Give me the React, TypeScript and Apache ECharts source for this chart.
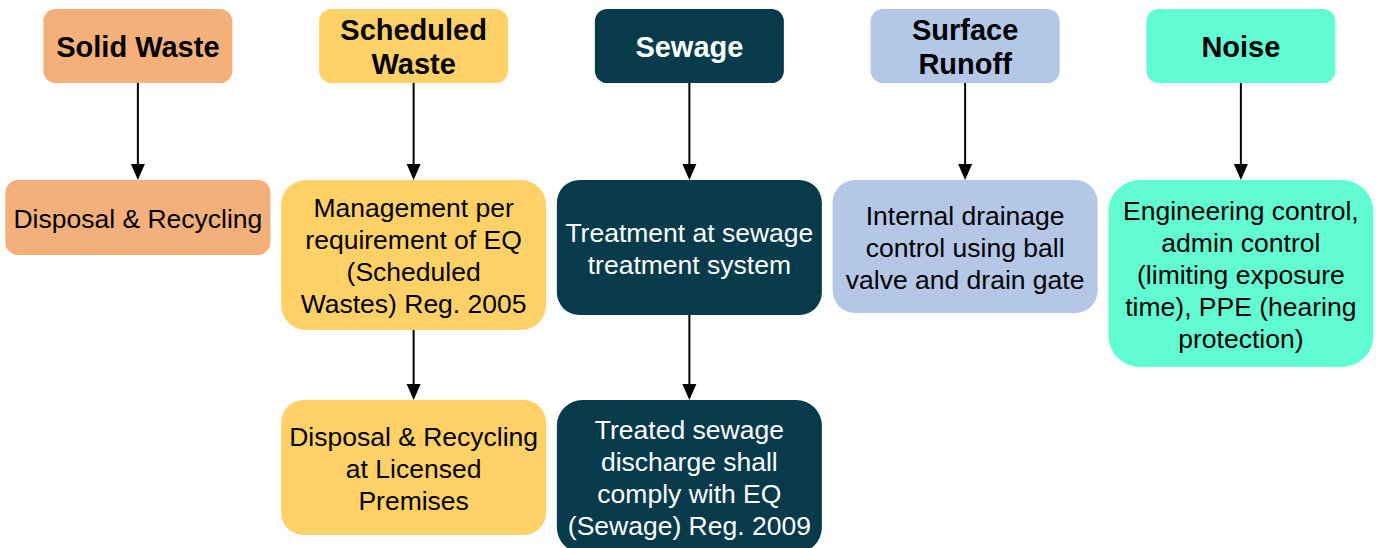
import React, { useEffect, useRef } from "react";
import * as echarts from "echarts";

// ---- Data ----
const headers = ["Solid Waste", "Scheduled\nWaste", "Sewage", "Surface\nRunoff", "Noise"];
const stepOne = [
  "Disposal & Recycling",
  "Management per\nrequirement of EQ\n(Scheduled\nWastes) Reg. 2005",
  "Treatment at sewage\ntreatment system",
  "Internal drainage\ncontrol using ball\nvalve and drain gate",
  "Engineering control,\nadmin control\n(limiting exposure\ntime), PPE (hearing\nprotection)",
];
const stepTwo: (string | null)[] = [
  null,
  "Disposal & Recycling\nat Licensed\nPremises",
  "Treated sewage\ndischarge shall\ncomply with EQ\n(Sewage) Reg. 2009",
  null,
  null,
];
const fills = ["#F4B07B", "#FFD166", "#073B4C", "#B4C7E7", "#62FCD3"];
const textColors = ["#000000", "#000000", "#FFFFFF", "#000000", "#000000"];

// ---- Layout (pixel units on the hidden y axis) ----
const TIER_TOP = [9, 180, 400];
const HEADER_SIZE = { w: 189, h: 74 };
const BODY_W = 265;
const STEP_ONE_H = [75, 150, 135, 133, 187];
const STEP_TWO_H = [0, 135, 153, 0, 0];
const FONT = "'Liberation Sans', Arial, Helvetica, sans-serif";

type NodeRow = [number, number, number, number, number]; // col, top, height, width, tier
const nodes: { value: NodeRow; text: string }[] = [];
headers.forEach((t, c) => nodes.push({ value: [c, TIER_TOP[0], HEADER_SIZE.h, HEADER_SIZE.w, 0], text: t }));
stepOne.forEach((t, c) => nodes.push({ value: [c, TIER_TOP[1], STEP_ONE_H[c], BODY_W, 1], text: t }));
stepTwo.forEach((t, c) => {
  if (t) nodes.push({ value: [c, TIER_TOP[2], STEP_TWO_H[c], BODY_W, 2], text: t });
});

// edges: col, from y (bottom of source), to y (top of target)
const edges: { value: [number, number, number] }[] = [];
headers.forEach((_, c) => edges.push({ value: [c, TIER_TOP[0] + HEADER_SIZE.h, TIER_TOP[1]] }));
stepTwo.forEach((t, c) => {
  if (t) edges.push({ value: [c, TIER_TOP[1] + STEP_ONE_H[c], TIER_TOP[2]] });
});

export default function App() {
  const ref = useRef<HTMLDivElement>(null);
  useEffect(() => {
    document.body.style.margin = "0";
    const chart = echarts.init(ref.current!, null, { renderer: "svg" });
    chart.setOption({
      animation: false,
      backgroundColor: "#FFFFFF",
      grid: { left: 0, right: 0, top: 0, bottom: 0 },
      xAxis: { type: "value", min: -0.5, max: 4.49, show: false },
      yAxis: { type: "value", min: 0, max: 548, inverse: true, show: false },
      series: [
        {
          type: "custom",
          clip: false,
          data: edges,
          renderItem: (params: any, api: any) => {
            const c = api.value(0);
            const x = api.coord([c, 0])[0];
            const y1 = api.coord([c, api.value(1)])[1];
            const y2 = api.coord([c, api.value(2)])[1];
            const ah = 16;
            const aw = 7;
            return {
              type: "group",
              children: [
                {
                  type: "line",
                  shape: { x1: x, y1: y1, x2: x, y2: y2 - ah + 1 },
                  style: { stroke: "#000000", lineWidth: 2 },
                },
                {
                  type: "polygon",
                  shape: { points: [[x - aw, y2 - ah], [x + aw, y2 - ah], [x, y2]] },
                  style: { fill: "#000000" },
                },
              ],
            };
          },
        },
        {
          type: "custom",
          clip: false,
          data: nodes.map((n) => ({ value: n.value, name: n.text })),
          renderItem: (params: any, api: any) => {
            const c = api.value(0);
            const tier = api.value(4);
            const cx = api.coord([c, 0])[0];
            const top = api.coord([c, api.value(1)])[1];
            const h = api.value(2);
            const w = api.value(3);
            const text = nodes[params.dataIndex].text;
            const r = Math.min(w, h) * 0.167;
            const header = tier === 0;
            return {
              type: "group",
              children: [
                {
                  type: "rect",
                  shape: { x: cx - w / 2, y: top, width: w, height: h, r },
                  style: { fill: fills[c] },
                },
                {
                  type: "text",
                  style: {
                    text,
                    x: cx,
                    y: top + h / 2 + 1,
                    align: "center",
                    verticalAlign: "middle",
                    fill: textColors[c],
                    fontFamily: FONT,
                    fontSize: header ? 29 : 26.5,
                    fontWeight: header ? "bold" : "normal",
                    lineHeight: header ? 34 : 32,
                  },
                },
              ],
            };
          },
        },
      ],
    });
    return () => chart.dispose();
  }, []);
  return <div ref={ref} style={{ width: 1376, height: 548 }} />;
}
